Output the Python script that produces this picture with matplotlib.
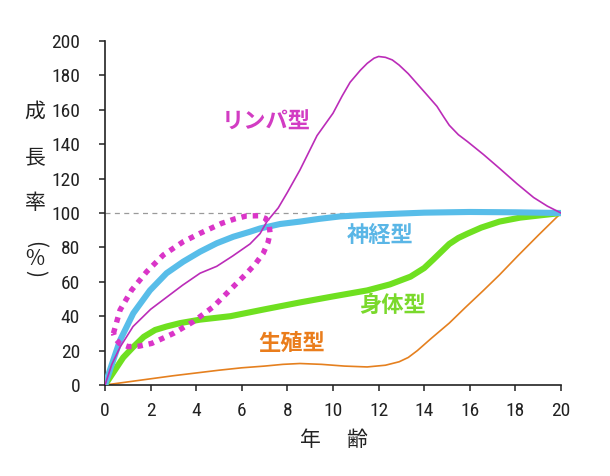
import matplotlib
matplotlib.use('Agg')
import matplotlib.pyplot as plt
from matplotlib import font_manager

plt.rcParams['font.family'] = ['Noto Sans CJK JP', 'DejaVu Sans']

# スキャモンの発育曲線
lymph_x = [0, 0.3, 0.66, 1.23, 2.0, 2.7, 3.4, 4.17, 4.9, 5.6, 6.36, 6.8, 7.1, 7.6, 8.0, 8.55, 9.3, 10.0,
           10.4, 10.75, 11.2, 11.5, 11.8, 12.0, 12.3, 12.6, 12.9, 13.3, 13.7, 14.1, 14.56, 14.85, 15.1,
           15.5, 15.9, 16.6, 17.3, 18.07, 18.8, 19.4, 20]
lymph_y = [0, 12, 22, 34, 44, 51, 58, 65, 69, 75, 82, 88, 95, 103, 112, 125, 145, 158,
           168, 176, 183, 187, 190, 191, 190.5, 189, 186, 181, 175, 169, 162, 156, 151,
           145.5, 141.5, 134, 126, 117, 109, 104, 100]

neural_x = [0, 0.3, 0.66, 1.24, 1.97, 2.7, 3.43, 4.17, 4.9, 5.63, 6.36, 6.8, 7.68, 8.55, 9.4, 10.3,
            11.2, 12.06, 13, 14, 16, 18, 20]
neural_y = [0, 12, 26, 41.7, 55, 65, 71.7, 77.5, 82.4, 86.2, 89.1, 91, 93.6, 95, 96.6, 98,
            98.7, 99.2, 99.7, 100.2, 100.6, 100.4, 100]

general_x = [0, 0.4, 0.8, 1.23, 1.7, 2.2, 2.7, 3.3, 4.17, 5.5, 7.0, 8.55, 10.0, 11.5, 12.5, 13.4,
             14.0, 14.4, 15.1, 15.5, 15.9, 16.5, 17.3, 18.2, 19.2, 20]
general_y = [0, 8, 16, 22, 28, 32, 34, 36, 38, 40, 44, 48, 51.5, 55, 58.5, 63,
             68, 73, 82, 85.5, 88, 91.5, 95, 97.3, 98.8, 100]

repro_x = [0, 1, 2, 3, 4, 5, 6, 7, 7.8, 8.55, 9.5, 10.5, 11.5, 12.3, 12.9, 13.3, 13.7, 14.3,
           15.1, 15.8, 16.6, 17.3, 18.1, 19.0, 20]
repro_y = [0, 1.8, 3.6, 5.4, 7.0, 8.6, 10.0, 11.0, 12, 12.5, 12.0, 11.0, 10.5, 11.5, 13.5, 16, 20, 27,
           36, 45, 55, 64, 75, 87, 100]

# 点線の囲み（リンパ型の初期部分）
loop_x = [0.37, 0.66, 1.17, 1.83, 2.56, 3.43, 4.17, 5.12, 5.7, 6.21, 6.73, 7.05, 7.2, 7.24, 7.15,
          6.94, 6.6, 6.21, 5.48, 4.75, 3.87, 3.0, 2.05, 1.5, 1.02, 0.65, 0.44, 0.37]
loop_y = [30.0, 43.6, 55.2, 65.9, 75.6, 83.3, 88.2, 94.0, 96.6, 98.3, 98.4, 96.8, 93, 88.2, 83,
          76.6, 70.5, 64.9, 55.2, 45.5, 36.8, 30.0, 24.2, 22.6, 22.3, 24, 27.1, 30.0]

x_ticks = list(range(0, 21, 2))
y_ticks = list(range(0, 201, 20))

# 細めの数字フォントを探す
names = {f.name for f in font_manager.fontManager.ttflist}
num_font = 'DejaVu Sans'
for cand in ['DejaVu Sans Condensed', 'Roboto Condensed', 'Liberation Sans Narrow', 'Roboto']:
    if cand in names:
        num_font = cand
        break

fig = plt.figure(figsize=(6.10, 4.76), dpi=100)
ax = fig.add_axes([105/610, 1 - 385/476, 456/610, 344/476])

ax.plot([0, 10.8], [100, 100], color='#9a9a9a', lw=0.9, dashes=(4, 3.5), zorder=1)

ax.plot(repro_x, repro_y, color='#e5801f', lw=1.2, solid_joinstyle='round', zorder=2)
ax.plot(general_x, general_y, color='#6fe020', lw=4.4, solid_joinstyle='round',
        solid_capstyle='round', zorder=3)
ax.plot(neural_x, neural_y, color='#58bde9', lw=4.4, solid_joinstyle='round',
        solid_capstyle='round', zorder=4)
ax.plot(lymph_x, lymph_y, color='#bb2cb8', lw=1.2, solid_joinstyle='round', zorder=5)
ax.plot(loop_x, loop_y, color='#da35c8', lw=3.9, dashes=(1.0, 1.1),
        dash_capstyle='butt', zorder=6)

lab = dict(fontsize=16, fontweight='bold', ha='center', va='center')
ax.text(7.07, 153, 'リンパ型', color='#d23cc3', **lab)
ax.text(12.06, 87, '神経型', color='#5ab6e6', **lab)
ax.text(12.6, 46.5, '身体型', color='#7ad92c', **lab)
ax.text(8.2, 24.4, '生殖型', color='#ea7d1c', **lab)

ax.set_xlim(0, 20)
ax.set_ylim(0, 200)
ax.set_xticks(x_ticks)
ax.set_yticks(y_ticks)
for s in ['top', 'right']:
    ax.spines[s].set_visible(False)
for s in ['left', 'bottom']:
    ax.spines[s].set_linewidth(1.2)
    ax.spines[s].set_color('#222222')
ax.tick_params(axis='both', direction='out', length=4, width=1.1, color='#222222')
ax.tick_params(axis='y', pad=14)
ax.tick_params(axis='x', pad=8)
for t in ax.get_xticklabels() + ax.get_yticklabels():
    t.set_family([num_font, 'DejaVu Sans'])
    t.set_fontsize(14)
    t.set_color('#222222')

# 縦書きの軸ラベル
W, H = 610, 476
for ch, py, rot in [('成', 112, 0), ('長', 158, 0), ('率', 203, 0),
                    ('(', 245, -90), ('%', 259, 0), (')', 273, -90)]:
    fig.text(35 / W, 1 - py / H, ch, fontsize=15, ha='center', va='center',
             rotation=rot, color='#222222')
fig.text(310 / W, 1 - 440 / H, '年', fontsize=15, ha='center', va='center', color='#222222')
fig.text(357 / W, 1 - 440 / H, '齢', fontsize=15, ha='center', va='center', color='#222222')

fig.savefig('out.png', dpi=100)
